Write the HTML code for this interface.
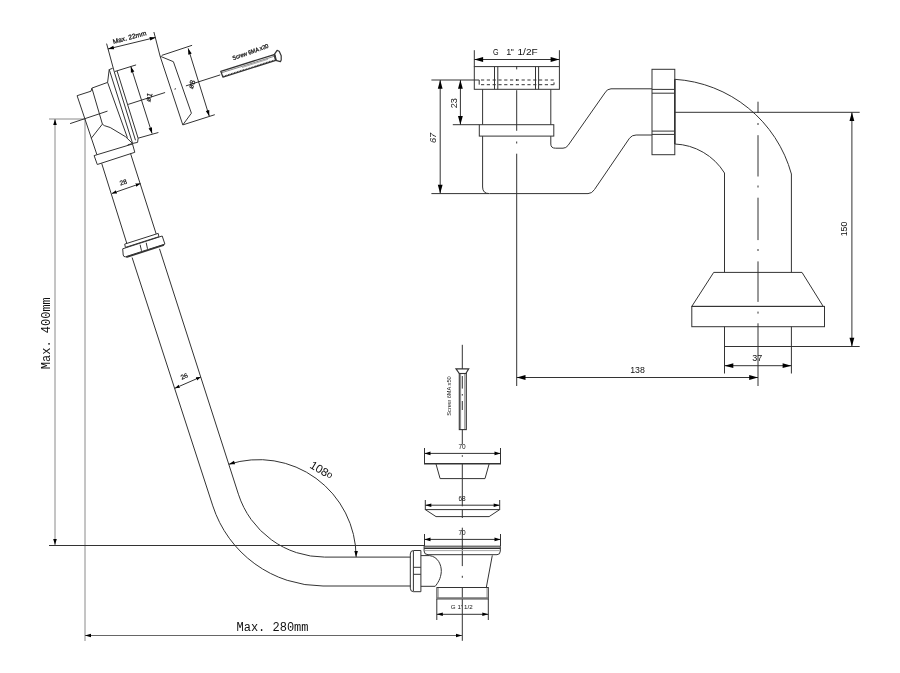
<!DOCTYPE html>
<html><head><meta charset="utf-8"><title>Bath waste drawing</title>
<style>
html,body{margin:0;padding:0;background:#fff;}
svg{display:block;will-change:transform;}
text{font-family:"Liberation Sans",sans-serif;fill:#111;stroke:none;}
.m{font-family:"Liberation Mono",monospace;}
</style></head><body>
<svg width="900" height="673" viewBox="0 0 900 673">
<defs>
<marker id="a" viewBox="-7 -2.5 8 5" refX="0" refY="0" markerWidth="8" markerHeight="5" markerUnits="userSpaceOnUse" orient="auto-start-reverse"><path d="M0,0 L-6,-1.8 L-6,1.8 Z" fill="#000" stroke="none"/></marker>
<marker id="b" viewBox="-10 -3 11 6" refX="0" refY="0" markerWidth="11" markerHeight="6" markerUnits="userSpaceOnUse" orient="auto-start-reverse"><path d="M0,0 L-8.8,-2.4 L-8.8,2.4 Z" fill="#000" stroke="none"/></marker>
<marker id="s" viewBox="-5 -2 6 4" refX="0" refY="0" markerWidth="6" markerHeight="4" markerUnits="userSpaceOnUse" orient="auto-start-reverse"><path d="M0,0 L-5,-1.7 L-5,1.7 Z" fill="#000" stroke="none"/></marker>
</defs>

<!-- ============ LEFT DIMENSIONS ============ -->
<g fill="none" stroke="#8a8a8a" stroke-width="1">
<line x1="49" y1="119" x2="85" y2="119"/>
<line x1="55" y1="119" x2="55" y2="545" marker-start="url(#a)" marker-end="url(#a)"/>
<line x1="85" y1="119" x2="85" y2="641"/>
</g>
<g fill="none" stroke="#333" stroke-width="1">
<line x1="49" y1="545.5" x2="425" y2="545.5"/>
<line x1="85" y1="635.5" x2="462" y2="635.5" stroke="#666" marker-start="url(#a)" marker-end="url(#a)"/>
</g>
<text class="m" x="0" y="0" font-size="12" transform="translate(50.2,333.2) rotate(-90)" text-anchor="middle" fill="#666">Max. 400mm</text>
<text class="m" x="272.5" y="630.5" font-size="12" text-anchor="middle" fill="#666">Max. 280mm</text>

<!-- ============ OVERFLOW HEAD ============ -->
<g fill="none" stroke="#333" stroke-width="1" stroke-linejoin="round">
<!-- Max 22mm -->
<polyline points="106.6,43.6 114.2,71.6 135.5,140.3"/>
<line x1="153.9" y1="32" x2="160.1" y2="56.2"/>
<line x1="107.9" y1="49" x2="155.7" y2="37.4" marker-start="url(#a)" marker-end="url(#a)"/>
<!-- body -->
<polyline points="96.9,154.6 77.1,95.7 91.0,91.2 91.9,88.1 107.6,82.4"/>
<path d="M107.6,82.4 L109.2,69.6 L112.6,68.3"/>
<line x1="91.9" y1="88.1" x2="102.4" y2="124.1"/>
<polyline points="91.3,138.2 102.4,124.1 104.3,125.6 110.2,127.5 125.5,136.7 132.9,143.8"/>
<!-- flange lines -->
<line x1="107.6" y1="82.4" x2="127.4" y2="137.7"/>
<line x1="109.2" y1="69.4" x2="132.6" y2="143.4"/>
<line x1="117.1" y1="71" x2="138.1" y2="138.2"/>
<polyline points="127.7,144.9 132.6,143.4 137.6,142.4 138.1,138.2"/>
<!-- flange dims -->
<line x1="114.5" y1="71.6" x2="136.1" y2="64.9"/>
<line x1="138.1" y1="138.2" x2="158.4" y2="132.5"/>
<line x1="130.8" y1="66.4" x2="152.1" y2="133.6" marker-start="url(#a)" marker-end="url(#a)"/>
<!-- centerline -->
<line x1="70.1" y1="123.6" x2="107.5" y2="111.1"/>
<line x1="128.2" y1="104.4" x2="165.1" y2="92.5"/>
<line x1="185.9" y1="85.9" x2="220.2" y2="74.9"/>
<!-- cover plate -->
<polygon points="160.1,56.2 173.4,61.7 191.4,113.2 182.8,124.9"/>
<line x1="161.7" y1="55.4" x2="192.1" y2="45.3"/>
<line x1="182.8" y1="124.9" x2="214.8" y2="114.7"/>
<line x1="188.2" y1="48.4" x2="209.3" y2="116.3" marker-start="url(#a)" marker-end="url(#a)"/>
<line x1="174.5" y1="89.2" x2="176" y2="88.7"/>
<!-- screw -->
<polygon points="220.8,71.3 274.2,54.6 275.8,60.4 222.9,77.1" stroke-width="1.3"/>
<polygon points="274.2,54.6 277.1,50.4 279.2,51.2 281.2,55.8 281.2,60 280.4,61.7 275.8,60.4" stroke-width="1.2"/>
<line x1="275" y1="54.3" x2="276.3" y2="60.2"/>
<line x1="222" y1="72.6" x2="274.5" y2="56.2" stroke="#555" stroke-width="0.7"/>
<line x1="242" y1="67.5" x2="268" y2="59.3" stroke="#777" stroke-width="0.6"/>
<line x1="223.5" y1="76.2" x2="275" y2="59.8" stroke="#333" stroke-width="1.1" stroke-dasharray="0.8,0.8"/>
<!-- nut on head -->
<polygon points="94.1,155.6 132.5,144 134.8,152.3 97.3,164.5"/>
<!-- upper pipe -->
<line x1="101.7" y1="163.4" x2="126.8" y2="243.4"/>
<line x1="130.5" y1="153.4" x2="156.2" y2="234"/>
<line x1="111.8" y1="193.5" x2="140.5" y2="183.5" marker-start="url(#s)" marker-end="url(#s)"/>
<!-- compression nut -->
<polygon points="124.7,244.1 158.2,233.4 158.9,236.7 125.4,247.4"/>
<path d="M122.7,248.8 L162.2,236 L164.9,244.1 L125.4,256.8 Q123.5,257 123.2,255 Z"/>
<line x1="126.3" y1="257.3" x2="164" y2="245" stroke-width="1.5"/>
<line x1="140.1" y1="244.7" x2="141.5" y2="250.8"/>
<line x1="146.2" y1="242.7" x2="147.5" y2="248.8"/>
<!-- lower pipe -->
<path d="M132.1,257.5 L212.8,505.9 A115.9,115.9 0 0 0 323,586 L410.7,586"/>
<path d="M159.5,248.8 L238.4,494.2 A90.6,90.6 0 0 0 324.6,557.1 L410.7,557.1"/>
<line x1="174.8" y1="388.3" x2="200.9" y2="376.9" marker-start="url(#s)" marker-end="url(#s)"/>
<!-- angle arc -->
<path d="M228.8,464.3 A97.5,97.5 0 0 1 356.1,557.1" marker-start="url(#a)" marker-end="url(#a)"/>
</g>
<g font-size="6.5">
<text x="0" y="2.3" transform="translate(129.5,37.3) rotate(-15)" text-anchor="middle" font-size="6.6" style="stroke:#111;stroke-width:0.25">Max. 22mm</text>
<text x="0" y="2.5" transform="translate(148.9,97.2) rotate(-72)" text-anchor="middle" font-size="7.5" style="stroke:#111;stroke-width:0.2">ø1</text>
<text x="0" y="2.5" transform="translate(191.8,84.4) rotate(-72)" text-anchor="middle" font-size="7.5" style="stroke:#111;stroke-width:0.2">ø8</text>
<text x="0" y="2" transform="translate(250.4,52) rotate(-19.5) scale(0.92,1)" text-anchor="middle" font-size="5.9" style="stroke:#111;stroke-width:0.25">Screw 6MA x30</text>
<text x="0" y="0" transform="translate(124,184.5) rotate(-18)" text-anchor="middle" style="stroke:#111;stroke-width:0.2">28</text>
<text x="0" y="0" transform="translate(185,378.5) rotate(-22)" text-anchor="middle" style="stroke:#111;stroke-width:0.2">26</text>
<text x="0" y="4" transform="translate(321.6,470.1) rotate(31)" text-anchor="middle" font-size="11.5" fill="#333">108<tspan font-size="9.5" dy="-1.2">o</tspan></text>
</g>

<!-- ============ WASTE PARTS ============ -->
<g fill="none" stroke="#333" stroke-width="1">
<!-- vertical centerline -->
<path d="M462.3,344.8 V369 M462.3,376 V388.6 M462.3,394 V395.6 M462.3,401 V410 M462.3,429.6 V444.5 M462.3,455.2 V456.8 M462.3,463.4 V506.3 M462.3,509.8 V518 M462.3,527.7 V566.1 M462.3,575.8 V577.8 M462.3,587.5 V640.8"/>
<!-- screw -->
<polygon points="456,368.8 468.7,368.8 465.9,373.5 459.3,373.5" stroke-width="1.2"/>
<rect x="459.3" y="373.5" width="7" height="56.1" stroke-width="1.1"/>
<line x1="460.6" y1="374" x2="460.6" y2="429" stroke="#666" stroke-width="0.8"/>
<line x1="464.8" y1="374" x2="464.8" y2="429" stroke="#666" stroke-width="0.8"/>
<!-- cover dim 70 -->
<line x1="424.5" y1="448" x2="424.5" y2="463.5"/>
<line x1="500.5" y1="448" x2="500.5" y2="463.5"/>
<line x1="424.5" y1="453.4" x2="500.5" y2="453.4" marker-start="url(#a)" marker-end="url(#a)"/>
<line x1="424" y1="463.8" x2="501" y2="463.8" stroke-width="1.6"/>
<polyline points="436,464 440.1,478.6 485,478.6 489.1,464"/>
<!-- washer -->
<line x1="425.3" y1="500" x2="425.3" y2="510"/>
<line x1="499.7" y1="500" x2="499.7" y2="510"/>
<line x1="425.3" y1="505.2" x2="499.7" y2="505.2" marker-start="url(#a)" marker-end="url(#a)"/>
<polygon points="425.3,509.6 499.7,509.6 489.1,516.6 436,516.6"/>
<!-- body dim 70 -->
<line x1="424.5" y1="534" x2="424.5" y2="546"/>
<line x1="500.5" y1="534" x2="500.5" y2="546"/>
<line x1="424.5" y1="539.4" x2="500.5" y2="539.4" marker-start="url(#a)" marker-end="url(#a)"/>
<!-- body flange -->
<line x1="424.1" y1="546.2" x2="500.3" y2="546.2"/>
<line x1="424.1" y1="548.3" x2="500.3" y2="548.3" stroke-width="1.6"/>
<path d="M424.1,546.2 L424.1,551 Q424.1,554.7 428,554.7 L497,554.7 Q500.3,554.7 500.3,551 L500.3,546.2"/>
<line x1="425" y1="550.6" x2="499.5" y2="550.6" stroke="#aaa"/>
<!-- body -->
<path d="M420.9,555.6 L429.4,555.6 C438,556.5 441.5,565 441.3,571.5 C441,578.5 437.5,583.5 435.2,586.3 L420.9,586.3"/>
<line x1="492.3" y1="555.4" x2="486.3" y2="587.5"/>
<rect x="436.9" y="587.5" width="51.4" height="11.4"/>
<line x1="438.2" y1="588" x2="438.2" y2="598.5" stroke="#777" stroke-width="0.8"/>
<line x1="487" y1="588" x2="487" y2="598.5" stroke="#777" stroke-width="0.8"/>
<line x1="437" y1="598.2" x2="488" y2="598.2" stroke="#777" stroke-width="2"/>
<!-- nut -->
<path d="M420.9,550.5 L413.5,550.5 Q410.3,550.5 410.3,554 L410.3,588.2 Q410.3,591.7 413.5,591.7 L420.9,591.7 Z"/>
<line x1="413.4" y1="551" x2="413.4" y2="591.2"/>
<line x1="413.4" y1="567.3" x2="420.9" y2="567.3"/>
<line x1="413.4" y1="574.3" x2="420.9" y2="574.3"/>
<!-- G1 1/2 dim -->
<line x1="436.8" y1="599" x2="436.8" y2="620"/>
<line x1="488.3" y1="599" x2="488.3" y2="620"/>
<line x1="436.8" y1="614.3" x2="488.3" y2="614.3" marker-start="url(#a)" marker-end="url(#a)"/>
</g>
<g font-size="6.5" text-anchor="middle" style="stroke:#111;stroke-width:0.15">
<text x="462" y="449">70</text>
<text x="462" y="500.5">68</text>
<text x="462" y="534.5">70</text>
<text x="450.8" y="609" font-size="6.2" text-anchor="start" textLength="22" lengthAdjust="spacing">G 1' 1/2</text>
<text x="0" y="0" transform="translate(451,396) rotate(-90)" font-size="5.7">Screw 6MA x50</text>
</g>

<!-- ============ RIGHT TRAP ============ -->
<g fill="none" stroke="#333" stroke-width="1">
<!-- dims top -->
<line x1="474.3" y1="50.2" x2="474.3" y2="66.6"/>
<line x1="559.4" y1="50.2" x2="559.4" y2="66.6"/>
<line x1="474.3" y1="59.5" x2="559.4" y2="59.5" marker-start="url(#b)" marker-end="url(#b)"/>
<!-- top nut -->
<rect x="474.3" y="66.6" width="85.1" height="22.7"/>
<line x1="494.5" y1="66.6" x2="494.5" y2="89.3"/>
<line x1="497.8" y1="66.6" x2="497.8" y2="89.3"/>
<line x1="535.5" y1="66.6" x2="535.5" y2="89.3"/>
<line x1="538.6" y1="66.6" x2="538.6" y2="89.3"/>
<path d="M474.3,80 H479.2 V84.7"/>
<path d="M481,80 H554 V84.7 M481,84.7 H554" stroke-dasharray="3.2,2.6"/>
<!-- tube + ring -->
<line x1="482.6" y1="89.3" x2="482.6" y2="124.7"/>
<line x1="550.8" y1="89.3" x2="550.8" y2="124.7"/>
<rect x="479.3" y="124.7" width="74.5" height="11.4"/>
<!-- trap body -->
<path d="M482.6,136.1 L482.6,187 Q482.6,193.6 489.4,193.6 L588,193.6 Q592,193.6 594.5,189.5 L629.5,138.2 Q632,135 636.1,135 L652,135"/>
<path d="M550.8,136.1 L550.8,144 Q550.8,148.2 555.5,148.2 L563,148.2 Q566,148.2 568,145.5 L604.8,93 Q607,88.8 611,88.8 L652,88.8"/>
<!-- dims 67 / 23 -->
<line x1="431.4" y1="80" x2="474.3" y2="80"/>
<line x1="431.4" y1="193.6" x2="489" y2="193.6"/>
<line x1="452.8" y1="124.7" x2="479.3" y2="124.7"/>
<line x1="440.2" y1="80" x2="440.2" y2="193.6" marker-start="url(#b)" marker-end="url(#b)"/>
<line x1="460.4" y1="80" x2="460.4" y2="124.7" marker-start="url(#b)" marker-end="url(#b)"/>
<!-- left centerline -->
<path d="M516.7,66 V69.4 M516.7,79 V81 M516.7,90.2 V130.8 M516.7,141.5 V143.5 M516.7,153.7 V386"/>
<!-- union nut -->
<rect x="652" y="69.3" width="22.8" height="85.4"/>
<line x1="652" y1="89.4" x2="674.8" y2="89.4"/>
<line x1="652" y1="93.2" x2="674.8" y2="93.2"/>
<line x1="652" y1="131.1" x2="674.8" y2="131.1"/>
<line x1="652" y1="134.4" x2="674.8" y2="134.4"/>
<line x1="674.8" y1="79.3" x2="674.8" y2="144" stroke-width="1.6"/>
<!-- elbow -->
<path d="M674.8,79.3 A129.5,129.5 0 0 1 791.4,174 L791.4,272.4"/>
<path d="M674.8,144 A61.4,61.4 0 0 1 724.5,173 L724.5,272.4"/>
<line x1="674.8" y1="112.3" x2="859.7" y2="112.3"/>
<path d="M758,101.7 V112.9 M758,123 V125 M758,135.2 V176.5 M758,185.5 V187.5 M758,197.7 V240.1 M758,249 V251 M758,261.4 V301.9 M758,311.6 V313.6 M758,323.3 V386"/>
<!-- base -->
<polygon points="713.7,272.4 802,272.4 823.2,306.4 691.8,306.4"/>
<rect x="691.8" y="306.4" width="132.7" height="20.3"/>
<line x1="724.5" y1="326.7" x2="724.5" y2="373.5"/>
<line x1="791.4" y1="326.7" x2="791.4" y2="373.5"/>
<line x1="724.5" y1="346.5" x2="859.7" y2="346.5"/>
<line x1="851.9" y1="112.3" x2="851.9" y2="346.5" marker-start="url(#b)" marker-end="url(#b)"/>
<line x1="724.5" y1="365.7" x2="791.4" y2="365.7" marker-start="url(#b)" marker-end="url(#b)"/>
<line x1="516.7" y1="377.5" x2="758" y2="377.5" marker-start="url(#b)" marker-end="url(#b)"/>
</g>
<g font-size="8" text-anchor="middle">
<text x="493" y="54.9" font-size="9" text-anchor="start" textLength="5.6" lengthAdjust="spacingAndGlyphs">G</text>
<text x="506.3" y="54.9" font-size="9" text-anchor="start">1</text>
<text x="510.8" y="54.9" font-size="8.5" text-anchor="start">"</text>
<text x="517.5" y="54.9" font-size="9" text-anchor="start" textLength="20.2" lengthAdjust="spacingAndGlyphs">1/2F</text>
<text x="0" y="0" transform="translate(436.2,137.9) rotate(-90)" font-size="9.2" font-style="italic">67</text>
<text x="0" y="0" transform="translate(456.7,103.2) rotate(-90)" font-size="9.2">23</text>
<text x="0" y="0" transform="translate(847.3,229) rotate(-90)" font-size="8.8">150</text>
<text x="757.2" y="360.8" font-size="9">37</text>
<text x="637.5" y="373" font-size="8.8">138</text>
</g>
</svg>
</body></html>
